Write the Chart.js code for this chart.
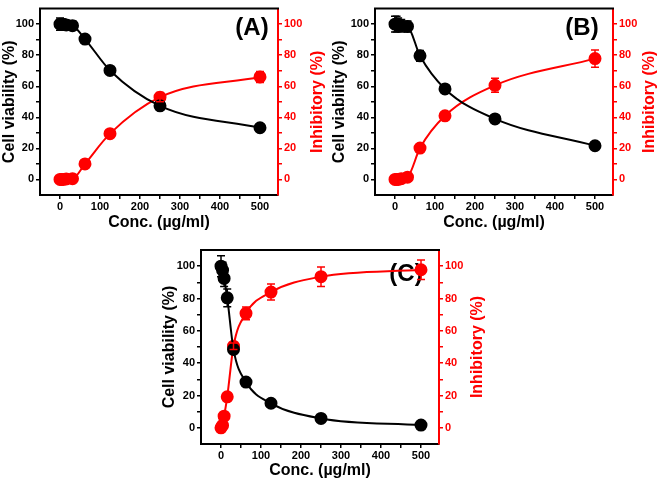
<!DOCTYPE html>
<html>
<head>
<meta charset="utf-8">
<script src="https://cdn.jsdelivr.net/npm/chart.js@4.4.0/dist/chart.umd.min.js"></script>
<style>
  body { margin: 0; background: #fff; width: 661px; height: 481px; position: relative; overflow: hidden; }
  canvas { position: absolute; }
</style>
</head>
<body>
<canvas id="chartA" style="left:0px;top:0px;"></canvas>
<canvas id="chartB" style="left:330px;top:0px;"></canvas>
<canvas id="chartC" style="left:160px;top:240px;"></canvas>
<script>
// concentrations (µg/ml)
const conc = [0, 3.9, 7.8, 15.6, 31.25, 62.5, 125, 250, 500];
const xTicks = [0, 100, 200, 300, 400, 500];
const yTicks = [0, 20, 40, 60, 80, 100];

// panel A
const viabA = [100, 100, 100, 99.5, 99, 90.4, 70.2, 47.4, 33.3];
const viabErrA = [4, 3.5, 3, 3, 3, 2.5, 1.5, 2, 1];
const inhibA = [0, 0, 0, 0.3, 0.5, 10, 29.5, 53, 66];
const inhibErrA = [0.5, 0.5, 0.5, 0.5, 0.5, 1, 1.5, 3, 3.5];

// panel B
const viabB = [100, 100, 100, 99, 98.5, 79.6, 58.3, 39, 21.7];
const viabErrB = [5, 5, 4, 4, 3.5, 3.5, 2, 1.5, 1];
const inhibB = [0, 0, 0, 0.5, 1.5, 20.2, 41, 60.6, 77.8];
const inhibErrB = [0.5, 0.5, 0.5, 0.5, 0.5, 1.5, 2, 4.5, 5.5];

// panel C
const viabC = [100, 97.5, 92.4, 80.4, 48.5, 28.3, 15.2, 5.8, 1.7];
const viabErrC = [6.5, 5, 5, 5.5, 2.5, 1.5, 1, 1, 1];
const inhibC = [0, 1.5, 7.2, 19.2, 50.5, 70.8, 84, 93.5, 97.8];
const inhibErrC = [0.5, 0.5, 1, 1, 2, 4, 5, 6, 6];

const FONT = "Arial, 'Liberation Sans', sans-serif";

function pts(xs, ys) {
    return xs.map((x, i) => ({ x: x, y: ys[i] }));
}

// major ticks plus a minor one halfway between each pair
function withMinor(list) {
    const out = [];
    list.forEach((v, i) => {
        out.push({ value: v });
        if (i < list.length - 1) out.push({ value: (v + list[i + 1]) / 2 });
    });
    return out;
}

// error bars, top frame line, panel label, right axis title
const extrasPlugin = {
    id: 'extras',
    beforeDatasetsDraw(chart) {
        const o = chart.options.plugins.extras;
        const c = chart.ctx;
        const a = chart.chartArea;
        c.save();
        c.fillStyle = '#000';
        c.font = 'bold 24px ' + FONT;
        c.textAlign = 'center';
        c.textBaseline = 'middle';
        c.fillText(o.label, o.lx, o.ly);
        c.restore();

        c.save();
        c.translate(o.rtx, (a.top + a.bottom) / 2);
        c.rotate(-Math.PI / 2);
        c.fillStyle = '#ff0000';
        c.font = 'bold 16px ' + FONT;
        c.textAlign = 'center';
        c.textBaseline = 'middle';
        c.fillText('Inhibitory (%)', 0, 0);
        c.restore();
    },
    afterDatasetsDraw(chart) {
        const c = chart.ctx;
        c.save();
        chart.data.datasets.forEach((ds) => {
            const ys = chart.scales[ds.yAxisID];
            const xs = chart.scales.x;
            c.strokeStyle = ds.borderColor;
            c.lineWidth = 1.5;
            ds.data.forEach((p, i) => {
                const e = ds.errors[i];
                const px = xs.getPixelForValue(p.x);
                const top = ys.getPixelForValue(p.y + e);
                const bot = ys.getPixelForValue(p.y - e);
                c.beginPath();
                c.moveTo(px, top); c.lineTo(px, bot);
                c.moveTo(px - 4, top); c.lineTo(px + 4, top);
                c.moveTo(px - 4, bot); c.lineTo(px + 4, bot);
                c.stroke();
            });
        });
        const a = chart.chartArea;
        c.strokeStyle = '#000';
        c.lineWidth = 2;
        c.beginPath();
        c.moveTo(a.left - 1, a.top);
        c.lineTo(a.right + 1, a.top);
        c.stroke();
        c.restore();
    }
};

function makeChart(id, w, h, viab, viabErr, inhib, inhibErr, opt) {
    const cv = document.getElementById(id);
    cv.width = w; cv.height = h;
    cv.style.width = w + 'px'; cv.style.height = h + 'px';
    const tickFont = { family: FONT, size: 11, weight: 'bold' };
    return new Chart(cv.getContext('2d'), {
        type: 'scatter',
        data: {
            datasets: [{
                label: 'Cell viability',
                data: pts(conc, viab),
                errors: viabErr,
                yAxisID: 'y',
                borderColor: '#000',
                backgroundColor: '#000',
                showLine: true,
                borderWidth: 2,
                pointRadius: 5.5,
                pointHoverRadius: 5.5,
                cubicInterpolationMode: 'monotone'
            }, {
                label: 'Inhibitory',
                data: pts(conc, inhib),
                errors: inhibErr,
                yAxisID: 'y1',
                borderColor: '#ff0000',
                backgroundColor: '#ff0000',
                showLine: true,
                borderWidth: 2,
                pointRadius: 5.5,
                pointHoverRadius: 5.5,
                cubicInterpolationMode: 'monotone'
            }]
        },
        options: {
            responsive: false,
            animation: false,
            layout: { padding: { top: opt.top, left: 0, right: 0, bottom: 0 } },
            plugins: {
                legend: { display: false },
                tooltip: { enabled: false },
                extras: { label: opt.label, lx: opt.lx, ly: opt.ly, rtx: opt.rtx }
            },
            scales: {
                x: {
                    type: 'linear',
                    min: -50, max: 545,
                    afterFit: s => { s.height = opt.xh; },
                    afterBuildTicks: s => { s.ticks = withMinor(xTicks); },
                    ticks: {
                        autoSkip: false,
                        maxRotation: 0,
                        padding: 1,
                        color: '#000',
                        font: tickFont,
                        callback: v => (v % 100 === 0 ? v : '')
                    },
                    grid: { drawOnChartArea: false, tickLength: 4, color: '#000', lineWidth: 1.5 },
                    border: { color: '#000', width: 2 },
                    title: {
                        display: true, text: 'Conc. (µg/ml)', color: '#000',
                        font: { family: FONT, size: 16, weight: 'bold' },
                        padding: { top: 0, bottom: opt.tpad }
                    }
                },
                y: {
                    position: 'left',
                    min: -10, max: 110,
                    afterFit: s => { s.width = opt.lw; },
                    afterBuildTicks: s => { s.ticks = withMinor(yTicks); },
                    ticks: {
                        autoSkip: false,
                        padding: 2,
                        color: '#000',
                        font: tickFont,
                        callback: v => (v % 20 === 0 ? v : '')
                    },
                    grid: { drawOnChartArea: false, tickLength: 4, color: '#000', lineWidth: 1.5 },
                    border: { color: '#000', width: 2 },
                    title: {
                        display: true, text: 'Cell viability (%)', color: '#000',
                        font: { family: FONT, size: 16, weight: 'bold' },
                        padding: 0
                    }
                },
                y1: {
                    position: 'right',
                    min: -10, max: 110,
                    afterFit: s => { s.width = opt.rw; },
                    afterBuildTicks: s => { s.ticks = withMinor(yTicks); },
                    ticks: {
                        autoSkip: false,
                        padding: 2,
                        color: '#ff0000',
                        font: tickFont,
                        callback: v => (v % 20 === 0 ? v : '')
                    },
                    grid: { drawOnChartArea: false, tickLength: 4, color: '#ff0000', lineWidth: 1.5 },
                    border: { color: '#ff0000', width: 2 }
                }
            }
        },
        plugins: [extrasPlugin]
    });
}

makeChart('chartA', 330, 240, viabA, viabErrA, inhibA, inhibErrA,
    { top: 3, xh: 45, tpad: 8, lw: 40, rw: 52, rtx: 318, label: '(A)', lx: 252, ly: 28 });
makeChart('chartB', 331, 240, viabB, viabErrB, inhibB, inhibErrB,
    { top: 3, xh: 45, tpad: 8, lw: 45, rw: 48, rtx: 320, label: '(B)', lx: 252, ly: 28 });
makeChart('chartC', 330, 241, viabC, viabErrC, inhibC, inhibErrC,
    { top: 10, xh: 37, tpad: 1, lw: 41, rw: 51, rtx: 318, label: '(C)', lx: 246, ly: 34 });
</script>
</body>
</html>
